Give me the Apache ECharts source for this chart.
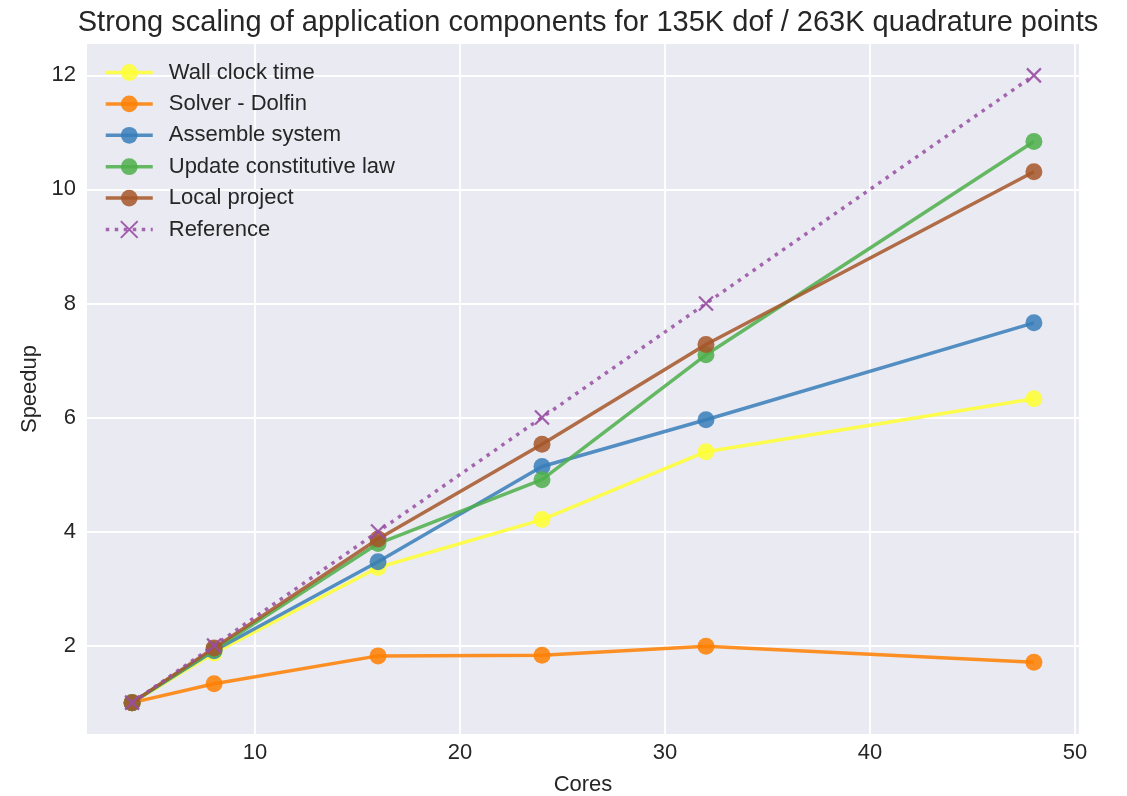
<!DOCTYPE html>
<html>
<head>
<meta charset="utf-8">
<script src="https://cdn.jsdelivr.net/npm/echarts@6/dist/echarts.min.js"></script>
<style>
  html, body { margin: 0; padding: 0; background: #ffffff; }
  #chart { width: 1127px; height: 796px; }
</style>
</head>
<body>
<div id="chart"></div>
<script>
// Core counts used in the strong-scaling runs
const cores = [4, 8, 16, 24, 32, 48];

// Measured speedup per application component
const wallClock = [1.00, 1.87, 3.37, 4.21, 5.40, 6.33];
const solverDolfin = [1.00, 1.33, 1.82, 1.83, 1.99, 1.71];
const assembleSystem = [1.00, 1.91, 3.47, 5.14, 5.96, 7.66];
const updateConstitutive = [1.00, 1.93, 3.79, 4.91, 7.10, 10.84];
const localProject = [1.00, 1.96, 3.87, 5.53, 7.28, 10.31];
const idealSpeedup = [1, 2, 4, 6, 8, 12];

// Tick positions
const xTicks = [10, 20, 30, 40, 50];
const yTicks = [2, 4, 6, 8, 10, 12];

const seriesNames = [
  'Wall clock time',
  'Solver - Dolfin',
  'Assemble system',
  'Update constitutive law',
  'Local project',
  'Reference'
];
const seriesValues = [wallClock, solverDolfin, assembleSystem, updateConstitutive, localProject, idealSpeedup];
const palette = ['#ffff33', '#ff7f00', '#377eb8', '#4daf4a', '#a65628', '#984ea3'];

const FONT = '"Liberation Sans", Arial, sans-serif';
const TEXT = '#262626';

function pairs(values) {
  return cores.map((c, i) => [c, values[i]]);
}

// "x" marker drawn as two stroked diagonals
const crossPath = 'path://M0,0L10,10M10,0L0,10';

const series = seriesNames.map((name, i) => {
  const isRef = name === 'Reference';
  return {
    name: name,
    type: 'line',
    data: pairs(seriesValues[i]),
    symbol: isRef ? crossPath : 'circle',
    symbolSize: isRef ? 14 : 17,
    showSymbol: true,
    z: 2 + i,
    lineStyle: {
      color: palette[i],
      width: 3.5,
      opacity: 0.85,
      type: isRef ? [3.5, 5.5] : 'solid'
    },
    itemStyle: isRef
      ? { color: palette[i], borderColor: palette[i], borderWidth: 2.2, opacity: 0.9 }
      : { color: palette[i], opacity: 0.85, borderWidth: 0 },
    emphasis: { disabled: true },
    animation: false
  };
});

const chart = echarts.init(document.getElementById('chart'), null, { renderer: 'canvas' });
chart.setOption({
  backgroundColor: '#ffffff',
  animation: false,
  color: palette,
  title: {
    text: 'Strong scaling of application components for 135K dof / 263K quadrature points',
    left: 583,
    textAlign: 'center',
    top: 3,
    textStyle: { fontFamily: FONT, fontSize: 29, fontWeight: 'normal', color: TEXT }
  },
  grid: {
    left: 87, right: 48, top: 44, bottom: 62,
    outerBoundsMode: 'none',
    containLabel: false,
    show: true, backgroundColor: '#eaeaf2', borderWidth: 0
  },
  legend: {
    orient: 'vertical',
    left: 99,
    top: 56.5,
    itemWidth: 47,
    itemHeight: 21,
    itemGap: 9.4,
    lineStyle: { width: 3.5 },
    textStyle: { fontFamily: FONT, fontSize: 22, color: TEXT, lineHeight: 21, padding: [0, 0, 0, 11] },
    data: seriesNames
  },
  xAxis: {
    type: 'value',
    min: 1.8,
    max: 50.2,
    name: 'Cores',
    nameLocation: 'middle',
    nameGap: 40,
    nameTextStyle: { fontFamily: FONT, fontSize: 22, color: TEXT },
    axisLine: { show: false },
    axisTick: { show: false, customValues: xTicks },
    axisLabel: { customValues: xTicks, fontFamily: FONT, fontSize: 22, color: TEXT, margin: 8 },
    splitLine: { show: true, lineStyle: { color: '#ffffff', width: 1.8 } }
  },
  yAxis: {
    type: 'value',
    min: 0.45,
    max: 12.55,
    name: 'Speedup',
    nameLocation: 'middle',
    nameGap: 46,
    nameTextStyle: { fontFamily: FONT, fontSize: 22, color: TEXT },
    axisLine: { show: false },
    axisTick: { show: false, customValues: yTicks },
    axisLabel: { customValues: yTicks, fontFamily: FONT, fontSize: 22, color: TEXT, margin: 11 },
    splitLine: { show: true, lineStyle: { color: '#ffffff', width: 1.8 } }
  },
  series: series
});
</script>
</body>
</html>
